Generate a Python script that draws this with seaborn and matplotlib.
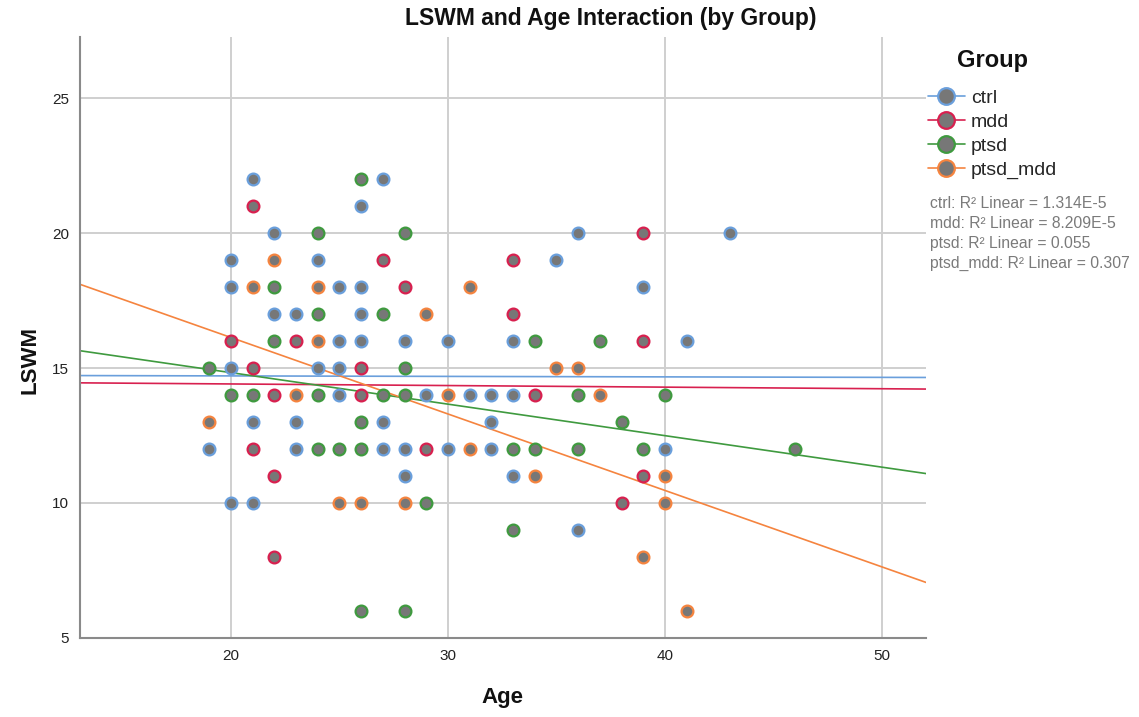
import numpy as np
import pandas as pd
import matplotlib
matplotlib.use("Agg")
import matplotlib.pyplot as plt
from matplotlib.lines import Line2D
import seaborn as sns

# ---- data -------------------------------------------------------------
groups = ["ctrl", "mdd", "ptsd", "ptsd_mdd"]

ctrl_age = [21, 27, 26, 22, 36, 43, 20, 24, 35, 20, 25, 26, 39, 22, 23, 26, 25, 26,
            28, 30, 33, 41, 20, 24, 25, 25, 29, 31, 32, 33, 21, 23, 27, 32, 19, 23,
            27, 28, 30, 32, 40, 28, 33, 20, 21, 36]
ctrl_lswm = [22, 22, 21, 20, 20, 20, 19, 19, 19, 18, 18, 18, 18, 17, 17, 17, 16, 16,
             16, 16, 16, 16, 15, 15, 15, 14, 14, 14, 14, 14, 13, 13, 13, 13, 12, 12,
             12, 12, 12, 12, 12, 11, 11, 10, 10, 9]

mdd_age = [21, 39, 27, 33, 28, 33, 20, 23, 39, 21, 26, 22, 26, 34, 21, 29, 22, 39,
           38, 22]
mdd_lswm = [21, 20, 19, 19, 18, 17, 16, 16, 16, 15, 15, 14, 14, 14, 12, 12, 11, 11,
            10, 8]

ptsd_age = [26, 24, 28, 22, 24, 27, 22, 34, 37, 19, 28, 20, 21, 24, 27, 28, 36, 40,
            26, 38, 24, 25, 26, 33, 34, 36, 39, 46, 29, 33, 26, 28]
ptsd_lswm = [22, 20, 20, 18, 17, 17, 16, 16, 16, 15, 15, 14, 14, 14, 14, 14, 14, 14,
             13, 13, 12, 12, 12, 12, 12, 12, 12, 12, 10, 9, 6, 6]

ptsd_mdd_age = [22, 21, 24, 31, 29, 24, 35, 36, 23, 30, 37, 19, 31, 34, 40, 25, 26,
                28, 40, 39, 41]
ptsd_mdd_lswm = [19, 18, 18, 18, 17, 16, 15, 15, 14, 14, 14, 13, 12, 11, 11, 10, 10,
                 10, 10, 8, 6]

# linear fit per group (intercept, slope) and R² values
fit_intercept = [14.743, 14.527, 17.162, 21.793]
fit_slope = [-0.0018, -0.0059, -0.1167, -0.2832]
r2_labels = ["1.314E-5", "8.209E-5", "0.055", "0.307"]

x_ticks = [20, 30, 40, 50]
y_ticks = [5, 10, 15, 20, 25]

# ---- styling ----------------------------------------------------------
palette = {"ctrl": "#6a9fdc", "mdd": "#d8204f", "ptsd": "#3f9a3f", "ptsd_mdd": "#f5843f"}
fill_gray = "#777777"
text_dark = "#111111"

sns.set_theme(style="white")
plt.rcParams["font.family"] = ["Liberation Sans", "DejaVu Sans"]

df = pd.concat([
    pd.DataFrame({"Age": ctrl_age, "LSWM": ctrl_lswm, "Group": "ctrl"}),
    pd.DataFrame({"Age": mdd_age, "LSWM": mdd_lswm, "Group": "mdd"}),
    pd.DataFrame({"Age": ptsd_age, "LSWM": ptsd_lswm, "Group": "ptsd"}),
    pd.DataFrame({"Age": ptsd_mdd_age, "LSWM": ptsd_mdd_lswm, "Group": "ptsd_mdd"}),
], ignore_index=True)

W, H = 1139, 717
fig = plt.figure(figsize=(W / 100, H / 100), dpi=100)
ax = fig.add_axes([0.0702, 0.1102, 0.7428, 0.8382])

xlim = (13.04, 52.03)
ylim = (5.0, 27.26)

# grid first so it stays under everything
for xv in x_ticks:
    ax.axvline(xv, color="#cfcfcf", lw=1.4, zorder=0)
for yv in y_ticks[1:]:
    ax.axhline(yv, color="#cfcfcf", lw=1.4, zorder=0)

# fitted lines spanning the full axis
xs = np.array(xlim)
line_rows = []
for g, b0, b1 in zip(groups, fit_intercept, fit_slope):
    for xv in xs:
        line_rows.append({"Age": xv, "LSWM": b0 + b1 * xv, "Group": g})
lines_df = pd.DataFrame(line_rows)
sns.lineplot(data=lines_df, x="Age", y="LSWM", hue="Group", palette=palette,
             hue_order=groups, lw=1.2, legend=False, ax=ax, zorder=2)

# points: gray fill with group-colored edge
for g in groups:
    sub = df[df["Group"] == g]
    sns.scatterplot(data=sub, x="Age", y="LSWM", color=fill_gray, s=72,
                    edgecolor=palette[g], linewidth=1.6, legend=False, ax=ax,
                    zorder=3)

ax.set_xlim(*xlim)
ax.set_ylim(*ylim)
ax.set_xticks(x_ticks)
ax.set_yticks(y_ticks)
ax.tick_params(axis="both", length=0, labelsize=11, colors="#222222", pad=8)

for side in ["top", "right"]:
    ax.spines[side].set_visible(False)
for side in ["left", "bottom"]:
    ax.spines[side].set_color("#8a8a8a")
    ax.spines[side].set_linewidth(1.5)

ax.set_xlabel("")
ax.set_ylabel("")
fig.text(611 / W, 1 - 18 / H, "LSWM and Age Interaction (by Group)", fontsize=16.5,
         fontweight="bold", color=text_dark, ha="center", va="center")
fig.text(502 / W, 1 - 698 / H, "Age", fontsize=16, fontweight="bold",
         color=text_dark, ha="center", va="center")
fig.text(30 / W, 1 - 360 / H, "LSWM", fontsize=16, fontweight="bold",
         color=text_dark, ha="center", va="center", rotation=90)

# legend with line-through-marker handles
fig.text(992 / W, 1 - 60 / H, "Group", fontsize=17, fontweight="bold",
         color=text_dark, ha="center", va="center")
handles = [Line2D([0], [0], color=palette[g], lw=1.2, marker="o", markersize=12,
                  markerfacecolor=fill_gray, markeredgecolor=palette[g],
                  markeredgewidth=1.6) for g in groups]
fig.legend(handles, groups, loc="upper left",
           bbox_to_anchor=(928 / W, 1 - 89 / H), frameon=False, fontsize=14,
           handlelength=1.9, handletextpad=0.3, labelspacing=0.33,
           borderaxespad=0, borderpad=0)

r2_text = "\n".join(f"{g}: R\u00b2 Linear = {v}" for g, v in zip(groups, r2_labels))
fig.text(930 / W, 1 - 196 / H, r2_text, fontsize=11.3, color="#7a7a7a", va="top",
         ha="left", linespacing=1.4)

fig.savefig("out.png", dpi=100)
